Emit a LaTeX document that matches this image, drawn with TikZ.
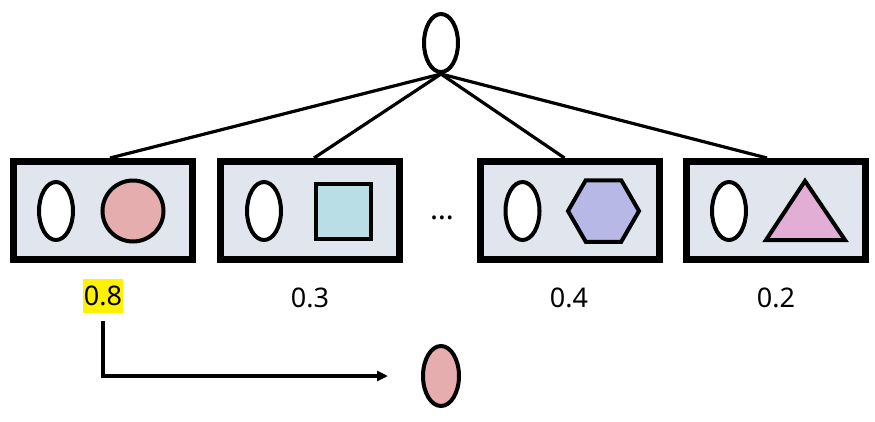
\documentclass[tikz,border=0pt]{standalone}
\usepackage{fontspec}
\setmainfont{Noto Sans}
\usetikzlibrary{arrows.meta,shapes.geometric}

\definecolor{kartabg}{HTML}{E1E6EE}
\definecolor{ruzova}{HTML}{E5ADAD}
\definecolor{modra}{HTML}{B9DEE6}
\definecolor{fialova}{HTML}{B7B8E6}
\definecolor{lila}{HTML}{E3AED5}

\tikzset{
  karta/.style={draw, line width=7pt, fill=kartabg, minimum width=179pt, minimum height=98pt, inner sep=0pt},
  vejce/.style={draw, ellipse, line width=4pt, fill=white, minimum width=34pt, minimum height=58pt, inner sep=0pt},
  tvar/.style={draw, line width=4pt, inner sep=0pt},
  hrana/.style={line width=3.2pt},
  popisek/.style={font=\fontsize{27}{30}\selectfont, inner sep=0pt}
}

\begin{document}
\begin{tikzpicture}[x=1pt, y=-1pt]
        \useasboundingbox (0,0) rectangle (875,421);

        % koren nahore
        \node[vejce] (koren) at (441,43) {};

        % karty
        \node[karta] (k1) at (103,210.5) {};
        \node[karta] (k2) at (310,210.5) {};
        \node[karta] (k3) at (569.5,210.5) {};
        \node[karta] (k4) at (776,210.5) {};

        % hrany od korene
        \draw[hrana] (koren.south) -- ([xshift=7pt]k1.north);
        \draw[hrana] (koren.south) -- ([xshift=4pt]k2.north);
        \draw[hrana] (koren.south) -- ([xshift=-5pt]k3.north);
        \draw[hrana] (koren.south) -- ([xshift=-9pt]k4.north);

        % obsah karet
        \node[vejce] (v1) at (56,211) {};
        \node[tvar, circle, fill=ruzova, minimum size=61pt] (kruh) at (133,211) {};

        \node[vejce] (v2) at (264,211) {};
        \node[tvar, rectangle, fill=modra, minimum size=55pt] (ctverec) at (343.5,211) {};

        \node[vejce] (v3) at (522.5,211) {};
        \node[tvar, regular polygon, regular polygon sides=6, fill=fialova, minimum size=71pt] (sestiuhelnik) at (603.5,211) {};

        \node[vejce] (v4) at (729,211) {};
        \draw[line width=4pt, fill=lila] (805,181) -- (845,240) -- (766,240) -- cycle;

        % tecky mezi kartami
        \node[font=\fontsize{30}{32}\selectfont, inner sep=0pt] (tecky) at (442,218) {…};

        % pravdepodobnosti
        \node[popisek, fill=yellow, minimum width=40pt, minimum height=34pt] (p1) at (103,296) {0.8};
        \node[popisek] (p2) at (310,298) {0.3};
        \node[popisek] (p3) at (569,298) {0.4};
        \node[popisek] (p4) at (776,298) {0.2};

        % vybrany vysledek
        \node[vejce, fill=ruzova, minimum width=36pt, minimum height=60pt] (vysledek) at (441,376) {};
        \draw[hrana, -{Triangle[length=11pt, width=10pt]}, shorten >=33pt] ([yshift=-8pt]p1.south) |- (vysledek.west);

    \end{tikzpicture}
\end{document}
